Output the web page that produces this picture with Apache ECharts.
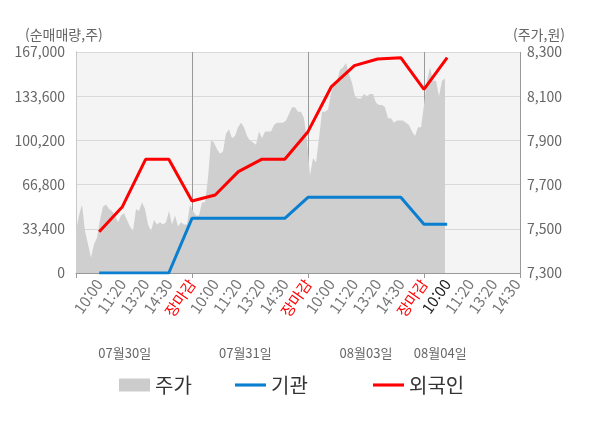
<!DOCTYPE html>
<html lang="ko">
<head>
<meta charset="UTF-8">
<title>기관/외국인 순매매량</title>
<script src="https://cdn.jsdelivr.net/npm/echarts@6/dist/echarts.min.js"></script>
<style>
    html, body { margin: 0; padding: 0; background: #fff; }
    #main { width: 600px; height: 428px; }
</style>
</head>
<body>
<div id="main"></div>
<script type="text/javascript">
    // x축 눈금 (1칸 = 라벨 한 칸)
    var timeLabels = ['10:00', '11:20', '13:20', '14:30', '장마감',
                      '10:00', '11:20', '13:20', '14:30', '장마감',
                      '10:00', '11:20', '13:20', '14:30', '장마감',
                      '10:00', '11:20', '13:20', '14:30'];
    var tickPos = [1, 2, 3, 4, 5, 6, 7, 8, 9, 10, 11, 12, 13, 14, 15, 16, 17, 18, 19];
    var currentTick = 16;

    var dateLabels = ['07월30일', '07월31일', '08월03일', '08월04일'];
    var datePos = [2.1, 7.3, 12.5, 15.7];

    // 순매매량 (주)
    var flowPos = [1, 2, 3, 4, 5, 6, 7, 8, 9, 10, 11, 12, 13, 14, 15, 16];
    var institution = [0, 0, 0, 0, 41300, 41300, 41300, 41300, 41300,
                       57200, 57200, 57200, 57200, 57200, 36800, 36800];
    var foreign = [31200, 50100, 85900, 85900, 54400, 58900, 76600, 85900, 85900,
                   106800, 140600, 156700, 161700, 162700, 138800, 162700];

    // 주가 (원), 일정 간격 분봉
    var priceSlots = 149;
    var price = [
        7490, 7560, 7610, 7490, 7430, 7370, 7430, 7460, 7540, 7600,
        7610, 7590, 7580, 7560, 7530, 7560, 7570, 7540, 7510, 7490,
        7590, 7580, 7620, 7590, 7520, 7490, 7540, 7520, 7530, 7520,
        7530, 7580, 7520, 7560, 7510, 7530, 7520, 7520, 7610, 7580,
        7560, 7560, 7620, 7620, 7730, 7900, 7890, 7860, 7840, 7850,
        7930, 7950, 7910, 7920, 7960, 7980, 7960, 7920, 7900, 7890,
        7880, 7940, 7910, 7940, 7940, 7940, 7970, 7980, 7980, 7980,
        7990, 8020, 8050, 8050, 8030, 8030, 8000, 7900, 7740, 7820,
        7800, 7910, 8030, 8030, 8040, 8110, 8160, 8170, 8220, 8230,
        8250, 8200, 8160, 8100, 8090, 8090, 8110, 8100, 8110, 8110,
        8070, 8060, 8060, 8050, 8000, 8000, 7980, 7990, 7990, 7990,
        7980, 7970, 7940, 7920, 7960, 7960, 8060, 8170, 8230, 8170,
        8170, 8100, 8170, 8180
    ];

    var slotNames = [];
    for (var i = 0; i < priceSlots; i++) { slotNames.push(String(i)); }

    function pairs(xs, ys) {
        var out = [];
        for (var i = 0; i < ys.length; i++) { out.push([xs[i], ys[i]]); }
        return out;
    }

    var fontFamily = "'Noto Sans CJK KR', 'Noto Sans', sans-serif";
    var lineIcon = 'path://M0,0L10,0L10,1L0,1Z';
    var myChart = echarts.init(document.getElementById('main'));

    // 범례는 항목별로 따로 배치
    function legendAt(left, item) {
        return {
            bottom: 28,
            left: left,
            itemWidth: 31,
            itemHeight: 13,
            textStyle: { fontSize: 20, color: '#333', fontFamily: fontFamily },
            data: [item]
        };
    }

    var option = {
        animation: false,
        textStyle: { fontFamily: fontFamily },
        title: [
            { text: '(순매매량,주)', left: 20, top: 23,
              textStyle: { fontSize: 14, fontWeight: 'normal', color: '#666', fontFamily: fontFamily } },
            { text: '(주가,원)', left: 508, top: 23,
              textStyle: { fontSize: 14, fontWeight: 'normal', color: '#666', fontFamily: fontFamily } }
        ],
        grid: { left: 76, right: 80, top: 52, bottom: 155, show: true,
                backgroundColor: '#f4f4f4', borderWidth: 0 },
        legend: [
            legendAt(114, { name: '주가', icon: 'rect', itemStyle: { color: '#cccccc' } }),
            legendAt(230, { name: '기관', icon: lineIcon, itemStyle: { color: '#0a7fcf' } }),
            legendAt(368, { name: '외국인', icon: lineIcon, itemStyle: { color: '#ff0000' } })
        ],
        xAxis: [
            {
                type: 'value',
                min: 0,
                max: 19.14,
                interval: 5,
                axisLine: { show: true, lineStyle: { color: '#999' } },
                axisTick: { show: true, length: 5, lineStyle: { color: '#999' } },
                splitLine: { show: true, lineStyle: { color: '#999', width: 1 } },
                axisLabel: {
                    customValues: tickPos,
                    rotate: 55,
                    margin: 8,
                    fontSize: 15,
                    color: '#777',
                    formatter: function (v) {
                        var idx = Math.round(v) - 1;
                        var t = timeLabels[idx];
                        if (t === '장마감') return '{close|' + t + '}';
                        if (Math.round(v) === currentTick) return '{now|' + t + '}';
                        return t;
                    },
                    rich: {
                        close: { color: '#ff0000', fontSize: 15, fontFamily: fontFamily },
                        now: { color: '#222', fontSize: 15, fontFamily: fontFamily }
                    }
                }
            },
            {
                type: 'category',
                data: slotNames,
                boundaryGap: false,
                show: false
            },
            {
                type: 'value',
                min: 0,
                max: 19.14,
                position: 'bottom',
                offset: 66,
                axisLine: { show: false },
                axisTick: { show: false },
                splitLine: { show: false },
                axisLabel: {
                    customValues: datePos,
                    fontSize: 13,
                    color: '#666',
                    formatter: function (v) {
                        return dateLabels[datePos.indexOf(v)] || '';
                    }
                }
            }
        ],
        yAxis: [
            {
                type: 'value',
                min: 0,
                max: 167000,
                interval: 33400,
                axisLine: { show: true, lineStyle: { color: '#999' } },
                axisTick: { show: false },
                splitLine: { lineStyle: { color: '#d9d9d9' } },
                axisLabel: {
                    fontSize: 14,
                    color: '#666',
                    margin: 11,
                    formatter: function (v) { return v.toLocaleString('en-US'); }
                }
            },
            {
                type: 'value',
                position: 'right',
                min: 7300,
                max: 8300,
                interval: 200,
                axisLine: { show: true, lineStyle: { color: '#c8c8c8' } },
                axisTick: { show: false },
                splitLine: { show: false },
                axisLabel: {
                    fontSize: 14,
                    color: '#666',
                    margin: 7,
                    formatter: function (v) { return v.toLocaleString('en-US'); }
                }
            }
        ],
        series: [
            {
                name: '주가',
                type: 'line',
                xAxisIndex: 1,
                yAxisIndex: 1,
                symbol: 'none',
                lineStyle: { width: 0 },
                itemStyle: { color: '#cccccc' },
                areaStyle: { color: '#cfcfcf', opacity: 1 },
                data: price
            },
            {
                name: '기관',
                type: 'line',
                xAxisIndex: 0,
                yAxisIndex: 0,
                symbol: 'none',
                lineStyle: { width: 3, color: '#0a7fcf' },
                itemStyle: { color: '#0a7fcf' },
                data: pairs(flowPos, institution)
            },
            {
                name: '외국인',
                type: 'line',
                xAxisIndex: 0,
                yAxisIndex: 0,
                symbol: 'none',
                lineStyle: { width: 3, color: '#ff0000' },
                itemStyle: { color: '#ff0000' },
                data: pairs(flowPos, foreign)
            }
        ]
    };

    myChart.setOption(option);
</script>
</body>
</html>
